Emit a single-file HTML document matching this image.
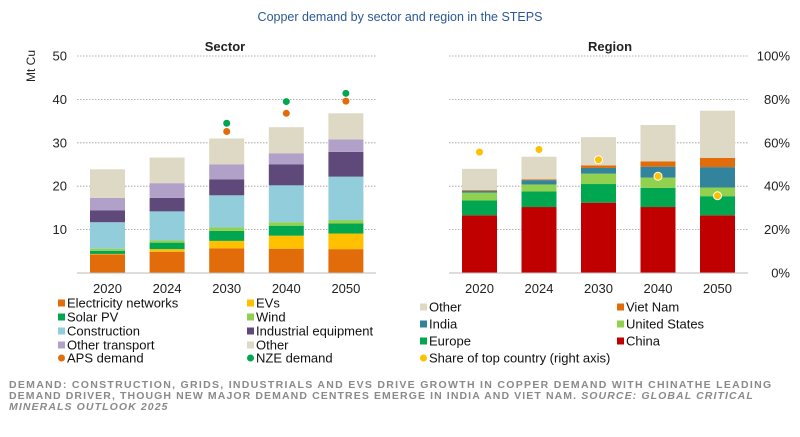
<!DOCTYPE html>
<html><head><meta charset="utf-8">
<style>
body{margin:0;background:#fff;width:800px;height:432px;overflow:hidden;font-family:"Liberation Sans",Arial,sans-serif;}
svg text{font-family:"Liberation Sans",Arial,sans-serif;}
</style></head>
<body>
<svg id="c" width="800" height="432" viewBox="0 0 800 432">
<text x="400" y="21" text-anchor="middle" font-size="12.5" fill="#2b5797">Copper demand by sector and region in the STEPS</text>
<text x="225" y="51" text-anchor="middle" font-size="13" font-weight="bold" fill="#222">Sector</text>
<text x="610" y="51" text-anchor="middle" font-size="13" font-weight="bold" fill="#222">Region</text>
<text transform="translate(35,66) rotate(-90)" text-anchor="middle" font-size="12" fill="#222">Mt Cu</text>
<g id="left"></g><g id="right"></g>
<g id="legend"></g>
<text font-size="10.5" font-weight="bold" fill="#8a8a8a" letter-spacing="1.3">
<tspan x="9" y="388">DEMAND: CONSTRUCTION, GRIDS, INDUSTRIALS AND EVS DRIVE GROWTH IN COPPER DEMAND WITH CHINATHE LEADING</tspan>
<tspan x="9" y="399" letter-spacing="1.1">DEMAND DRIVER, THOUGH NEW MAJOR DEMAND CENTRES EMERGE IN INDIA AND VIET NAM. <tspan font-style="italic">SOURCE: GLOBAL CRITICAL</tspan></tspan>
<tspan x="9" y="410" font-style="italic" letter-spacing="1.1">MINERALS OUTLOOK 2025</tspan>
</text>
</svg>
<script>
const years=["2020","2024","2030","2040","2050"];
const sectorNames=["Electricity networks","EVs","Solar PV","Wind","Construction","Industrial equipment","Other transport","Other"];
const sectorColors=["#e36c0a","#ffc000","#00a650","#92d050","#92cddc","#5f497a","#b1a0c7","#ddd9c4"];
const elecNet=[4.3,4.9,5.7,5.6,5.5];
const evs=[0.1,0.6,1.7,3.0,3.6];
const solarPv=[0.7,1.5,2.3,2.3,2.3];
const wind=[0.5,0.5,0.8,0.8,0.8];
const construction=[6.1,6.7,7.4,8.5,10.0];
const industrial=[2.7,3.1,3.7,4.8,5.7];
const otherTransport=[2.9,3.4,3.4,2.6,2.9];
const otherSector=[6.6,5.9,6.0,6.0,6.0];
const apsDemand=[null,null,32.6,36.8,39.6];
const nzeDemand=[null,null,34.5,39.5,41.4];
const leftTicks=[10,20,30,40,50];
const regionNames=["China","Europe","United States","India","Viet Nam","Other"];
const regionColors=["#c00000","#00a650","#92d050","#31849b","#e36c0a","#ddd9c4"];
const china=[13.3,15.2,16.2,15.2,13.3];
const europe=[3.4,3.6,4.3,4.4,4.4];
const us=[1.8,1.6,2.4,2.4,2.0];
const india=[0.4,1.0,1.3,2.5,4.7];
const vietNam=[0.2,0.2,0.6,1.2,2.1];
const otherRegion=[4.9,5.2,6.5,8.4,10.9];
const topShare=[55.7,56.9,52.2,44.6,35.6];
const rightTicks=["0%","20%","40%","60%","80%","100%"];

const NS="http://www.w3.org/2000/svg";
function mk(parent,tag,attrs){const e=document.createElementNS(NS,tag);for(const k in attrs)e.setAttribute(k,attrs[k]);parent.appendChild(e);return e;}
const y0=273,yTop=56;
function yMt(v){return y0-(v/50)*(y0-yTop);}
function yPct(p){return y0-(p/100)*(y0-yTop);}
const L=document.getElementById('left'),R=document.getElementById('right'),G=document.getElementById('legend');
function xL(i){return 107.5+i*59.6;}
function xR(i){return 479.5+i*59.5;}
const bw=35;

leftTicks.forEach(t=>{
 const g=mk(L,'line',{x1:77,x2:376,y1:yMt(t),y2:yMt(t),stroke:'#999','stroke-dasharray':'1.5,1.5','stroke-width':0.8});
 
 
 const tx=mk(L,'text',{x:67,y:yMt(t)+4.5,'text-anchor':'end','font-size':13,fill:'#222'});tx.textContent=t;
 
 
});
const sSeries=[elecNet,evs,solarPv,wind,construction,industrial,otherTransport,otherSector];
years.forEach((yr,i)=>{
 let cum=0;
 sSeries.forEach((s,k)=>{
  const r=mk(L,'rect',{x:xL(i)-bw/2,y:yMt(cum+s[i]),width:bw,height:yMt(cum)-yMt(cum+s[i]),fill:sectorColors[k]});
  
  
  cum+=s[i];
 });
 if(apsDemand[i]!=null){
  const c=mk(L,'circle',{cx:xL(i),cy:yMt(apsDemand[i]),r:3.5,fill:'#e36c0a'});
  
  
 }
 if(nzeDemand[i]!=null){
  const c=mk(L,'circle',{cx:xL(i),cy:yMt(nzeDemand[i]),r:3.5,fill:'#00a650'});
  
  
 }
 const tx=mk(L,'text',{x:xL(i),y:y0+20,'text-anchor':'middle','font-size':13,fill:'#222'});tx.textContent=yr;
 
 
});
const ax=mk(L,'line',{x1:77,x2:376,y1:y0,y2:y0,stroke:'#bbb','stroke-width':1});



rightTicks.forEach((t,k)=>{
 const p=k*20;
 if(p>0){const g=mk(R,'line',{x1:449,x2:748,y1:yPct(p),y2:yPct(p),stroke:'#999','stroke-dasharray':'1.5,1.5','stroke-width':0.8});
 
 }
 const tx=mk(R,'text',{x:790,y:yPct(p)+4.5,'text-anchor':'end','font-size':13,fill:'#222'});tx.textContent=t;
 
 
});
const rSeries=[china,europe,us,india,vietNam,otherRegion];
years.forEach((yr,i)=>{
 let cum=0;
 rSeries.forEach((s,k)=>{
  const r=mk(R,'rect',{x:xR(i)-bw/2,y:yMt(cum+s[i]),width:bw,height:yMt(cum)-yMt(cum+s[i]),fill:regionColors[k]});
  
  
  cum+=s[i];
 });
 const tx=mk(R,'text',{x:xR(i),y:y0+20,'text-anchor':'middle','font-size':13,fill:'#222'});tx.textContent=yr;
 
 
});
years.forEach((yr,i)=>{
 const c=mk(R,'circle',{cx:xR(i),cy:yPct(topShare[i]),r:4,fill:'#ffc000',stroke:'#fff','stroke-width':1});
 
 
});
const ax2=mk(R,'line',{x1:449,x2:748,y1:y0,y2:y0,stroke:'#bbb','stroke-width':1});



function leg(x,y,color,label,circle){
 const g=mk(G,'g',{});
 
 
 if(circle)mk(g,'circle',{cx:x+3.5,cy:y,r:3.5,fill:color});
 else mk(g,'rect',{x:x,y:y-3.5,width:7,height:7,fill:color});
 const t=mk(g,'text',{x:x+9,y:y+4.5,'font-size':13,fill:'#111'});t.textContent=label;
}
const lrow=[303,317,331,345,358];
sectorNames.forEach((n,k)=>leg(k%2?247:58,lrow[Math.floor(k/2)],sectorColors[k],n,false));
leg(58,lrow[4],'#e36c0a','APS demand',true);
leg(247,lrow[4],'#00a650','NZE demand',true);
const rrow=[307,324,341,358];
leg(420,rrow[0],regionColors[5],'Other',false);
leg(617,rrow[0],regionColors[4],'Viet Nam',false);
leg(420,rrow[1],regionColors[3],'India',false);
leg(617,rrow[1],regionColors[2],'United States',false);
leg(420,rrow[2],regionColors[1],'Europe',false);
leg(617,rrow[2],regionColors[0],'China',false);
leg(420,rrow[3],'#ffc000','Share of top country (right axis)',true);
</script>
</body></html>
